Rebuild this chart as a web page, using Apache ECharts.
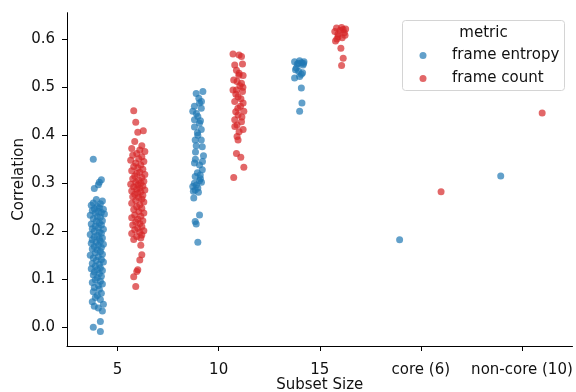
<!DOCTYPE html>
<html>
<head>
<meta charset="utf-8">
<script src="https://cdn.jsdelivr.net/npm/echarts@6/dist/echarts.min.js"></script>
<style>
  body { margin: 0; background: #fff; }
  #chart { width: 576px; height: 392px; }
</style>
</head>
<body>
<div id="chart"></div>
<script>
// categories on the x axis
const categories = ["5", "10", "15", "core (6)", "non-core (10)"];
const yTicks = [0, 0.1, 0.2, 0.3, 0.4, 0.5, 0.6];
const seriesNames = ["frame entropy", "frame count"];

// each point: [jitter inside its strip, correlation]
const entropy5 = [
  [-0.04, 0.350], [0.04, 0.307], [0.02, 0.302], [0.01, 0.297], [-0.03, 0.289],
  [-0.01, 0.266], [0.05, 0.263], [-0.04, 0.259], [0.03, 0.257], [-0.06, 0.254],
  [0.00, 0.252], [0.02, 0.249], [-0.03, 0.247], [0.06, 0.246], [-0.05, 0.243],
  [0.01, 0.241], [0.04, 0.239], [-0.02, 0.238], [0.07, 0.236], [-0.07, 0.233],
  [0.00, 0.230], [0.03, 0.229], [-0.04, 0.226], [0.05, 0.222], [-0.01, 0.221],
  [0.02, 0.217], [-0.06, 0.215], [0.04, 0.213], [-0.02, 0.211], [0.01, 0.207],
  [-0.05, 0.205], [0.06, 0.204], [-0.03, 0.200], [0.02, 0.198], [0.04, 0.196],
  [-0.07, 0.193], [0.00, 0.191], [-0.03, 0.188], [0.05, 0.186], [0.02, 0.184],
  [-0.05, 0.182], [0.03, 0.179], [-0.01, 0.177], [-0.06, 0.175], [0.06, 0.173],
  [0.01, 0.171], [-0.03, 0.168], [0.04, 0.166], [-0.05, 0.163], [0.00, 0.161],
  [0.03, 0.158], [-0.02, 0.155], [0.05, 0.152], [-0.07, 0.150], [0.01, 0.147],
  [-0.04, 0.144], [0.04, 0.141], [-0.01, 0.139], [0.06, 0.136], [-0.05, 0.133],
  [0.02, 0.131], [-0.02, 0.127], [0.03, 0.124], [-0.06, 0.122], [0.00, 0.120],
  [0.05, 0.118], [-0.03, 0.115], [0.02, 0.112], [-0.04, 0.109], [0.04, 0.106],
  [0.00, 0.103], [-0.02, 0.099], [0.03, 0.096], [-0.05, 0.093], [0.05, 0.090],
  [0.01, 0.087], [-0.03, 0.083], [0.02, 0.079], [-0.04, 0.074], [0.04, 0.071],
  [0.00, 0.066], [-0.02, 0.062], [0.03, 0.058], [-0.05, 0.053], [0.06, 0.048],
  [-0.03, 0.044], [0.01, 0.040], [0.05, 0.034], [0.03, 0.012], [-0.04, 0.000],
  [0.03, -0.009]
];
const count5 = [
  [-0.04, 0.451], [-0.02, 0.427], [0.00, 0.406], [0.055, 0.409], [-0.03, 0.387],
  [0.04, 0.378], [-0.06, 0.372], [0.02, 0.369], [0.07, 0.366], [-0.01, 0.362],
  [-0.05, 0.358], [0.04, 0.355], [0.01, 0.351], [-0.07, 0.348], [0.06, 0.345],
  [-0.02, 0.342], [0.03, 0.338], [-0.04, 0.335], [0.00, 0.332], [0.05, 0.329],
  [-0.06, 0.326], [0.02, 0.323], [-0.01, 0.320], [0.07, 0.318], [-0.03, 0.315],
  [0.04, 0.312], [-0.05, 0.309], [0.01, 0.306], [0.06, 0.304], [-0.02, 0.302],
  [0.03, 0.300], [-0.07, 0.298], [0.00, 0.296], [0.05, 0.294], [-0.04, 0.292],
  [0.02, 0.290], [-0.01, 0.288], [0.07, 0.286], [-0.06, 0.284], [0.03, 0.282],
  [0.00, 0.279], [-0.03, 0.277], [0.05, 0.275], [-0.05, 0.272], [0.01, 0.270],
  [0.04, 0.267], [-0.02, 0.264], [0.06, 0.261], [-0.06, 0.258], [0.02, 0.255],
  [-0.01, 0.251], [0.04, 0.248], [-0.04, 0.245], [0.01, 0.241], [0.06, 0.238],
  [-0.03, 0.234], [0.03, 0.231], [-0.06, 0.228], [0.00, 0.225], [0.05, 0.222],
  [-0.02, 0.219], [0.02, 0.216], [-0.05, 0.213], [0.04, 0.210], [0.00, 0.206],
  [-0.03, 0.203], [0.06, 0.201], [0.02, 0.198], [-0.06, 0.195], [0.04, 0.192],
  [-0.01, 0.189], [0.03, 0.186], [-0.04, 0.183], [0.03, 0.171], [0.04, 0.151],
  [0.02, 0.140], [0.00, 0.120], [-0.01, 0.116], [-0.04, 0.105], [-0.02, 0.085]
];
const entropy10 = [
  [0.044, 0.491], [-0.022, 0.487], [0.004, 0.477], [0.011, 0.467], [-0.04, 0.460],
  [0.03, 0.470], [-0.056, 0.450], [0.028, 0.456], [-0.02, 0.445], [-0.006, 0.439],
  [-0.039, 0.432], [0.02, 0.430], [0.01, 0.425], [-0.039, 0.417], [0.028, 0.412],
  [-0.01, 0.405], [-0.006, 0.400], [-0.032, 0.390], [0.028, 0.390], [-0.022, 0.378],
  [0.038, 0.376], [-0.029, 0.365], [0.05, 0.357], [-0.03, 0.350], [0.04, 0.345],
  [-0.039, 0.342], [0.011, 0.338], [0.038, 0.328], [-0.01, 0.322], [0.018, 0.317],
  [-0.032, 0.314], [0.02, 0.309], [0.01, 0.305], [0.03, 0.302], [-0.04, 0.300],
  [-0.02, 0.296], [-0.056, 0.293], [-0.006, 0.290], [-0.032, 0.286], [-0.05, 0.283],
  [0.00, 0.281], [-0.046, 0.269], [0.011, 0.234], [-0.032, 0.220], [-0.022, 0.215],
  [-0.006, 0.177]
];
const count10 = [
  [-0.058, 0.569], [0.002, 0.567], [0.026, 0.564], [-0.041, 0.546], [0.036, 0.548],
  [-0.024, 0.535], [0.002, 0.529], [0.00, 0.525], [0.042, 0.524], [-0.051, 0.515],
  [-0.018, 0.512], [0.026, 0.508], [0.01, 0.503], [0.04, 0.500], [-0.024, 0.494],
  [-0.058, 0.494], [0.036, 0.491], [-0.03, 0.485], [-0.008, 0.480], [0.02, 0.476],
  [-0.041, 0.470], [0.042, 0.467], [0.016, 0.460], [-0.01, 0.456], [-0.031, 0.449],
  [0.049, 0.450], [-0.008, 0.442], [0.03, 0.438], [-0.041, 0.432], [0.026, 0.428],
  [-0.018, 0.421], [-0.04, 0.418], [0.042, 0.412], [0.002, 0.407], [-0.018, 0.397],
  [-0.008, 0.390], [-0.024, 0.362], [0.019, 0.354], [0.049, 0.333], [-0.051, 0.312]
];
const entropy15 = [
  [-0.049, 0.553], [0.001, 0.555], [0.044, 0.553], [-0.01, 0.550], [0.02, 0.551],
  [0.04, 0.549], [-0.022, 0.548], [0.034, 0.546], [-0.032, 0.540], [-0.04, 0.536],
  [-0.009, 0.533], [0.03, 0.530], [0.018, 0.527], [0.001, 0.522], [-0.049, 0.519],
  [0.018, 0.498], [0.024, 0.467], [0.001, 0.450]
];
const count15 = [
  [-0.034, 0.623], [0.016, 0.624], [0.056, 0.621], [0.03, 0.620], [-0.051, 0.616],
  [0.00, 0.618], [0.042, 0.613], [-0.02, 0.610], [0.05, 0.608], [-0.018, 0.605],
  [0.022, 0.603], [-0.03, 0.600], [-0.044, 0.596], [0.009, 0.581], [0.032, 0.560],
  [0.016, 0.545]
];
const entropyCore = [[-0.01, 0.182]];
const countCore = [[0.00, 0.282]];
const entropyNonCore = [[-0.01, 0.315]];
const countNonCore = [[0.00, 0.446]];

const entropyByCat = [entropy5, entropy10, entropy15, entropyCore, entropyNonCore];
const countByCat = [count5, count10, count15, countCore, countNonCore];

function place(groups, dodge) {
  const out = [];
  groups.forEach((pts, i) => {
    pts.forEach(p => out.push([i + dodge + p[0], p[1]]));
  });
  return out;
}

const font = "DejaVu Sans";
const fs = 15;
const chart = echarts.init(document.getElementById("chart"));
chart.setOption({
  animation: false,
  textStyle: { fontFamily: font },
  grid: { left: 67, right: 3.5, top: 12.7, bottom: 46, outerBoundsMode: "none" },
  xAxis: {
    type: "value",
    min: -0.5,
    max: 4.5,
    name: "Subset Size",
    nameLocation: "middle",
    nameGap: 31.5,
    nameMoveOverlap: false,
    nameTextStyle: { fontSize: fs, color: "#111", fontFamily: font },
    axisLine: { show: true, onZero: false, lineStyle: { color: "#000", width: 1 } },
    axisTick: { show: true, length: 5, lineStyle: { color: "#000" }, customValues: [0, 1, 2, 3, 4] },
    axisLabel: {
      customValues: [0, 1, 2, 3, 4],
      formatter: v => categories[Math.round(v)],
      fontSize: fs, color: "#111", margin: 17, fontFamily: font
    },
    splitLine: { show: false }
  },
  yAxis: {
    type: "value",
    min: -0.039,
    max: 0.655,
    name: "Correlation",
    nameLocation: "middle",
    nameGap: 40,
    nameMoveOverlap: false,
    nameTextStyle: { fontSize: fs, color: "#111", fontFamily: font },
    axisLine: { show: true, onZero: false, lineStyle: { color: "#000", width: 1 } },
    axisTick: { show: true, length: 5, lineStyle: { color: "#000" }, customValues: yTicks },
    axisLabel: {
      customValues: yTicks,
      formatter: v => v.toFixed(1),
      fontSize: fs, color: "#111", margin: 12, fontFamily: font
    },
    splitLine: { show: false }
  },
  legend: {
    orient: "vertical",
    left: 419.5,
    top: 48,
    padding: 0,
    itemGap: 8,
    itemWidth: 28,
    itemHeight: 7,
    icon: "circle",
    textStyle: { fontSize: fs, color: "#111", lineHeight: 15, padding: [0, 0, 0, 10], fontFamily: font },
    data: seriesNames
  },
  graphic: [
    {
      type: "rect",
      shape: { x: 402.5, y: 20.5, width: 162, height: 70, r: 3 },
      style: { fill: "rgba(255,255,255,0.8)", stroke: "#d4d4d4", lineWidth: 1 },
      z: 0
    },
    {
      type: "text",
      x: 483.5,
      y: 33.5,
      style: { text: "metric", fontSize: fs, fill: "#111", fontFamily: font, align: "center", verticalAlign: "middle" },
      z: 1
    }
  ],
  series: [
    {
      name: seriesNames[0],
      type: "scatter",
      symbolSize: 7,
      itemStyle: { color: "#1f77b4", opacity: 0.7 },
      emphasis: { disabled: true },
      data: place(entropyByCat, -0.2)
    },
    {
      name: seriesNames[1],
      type: "scatter",
      symbolSize: 7,
      itemStyle: { color: "#d62728", opacity: 0.7 },
      emphasis: { disabled: true },
      data: place(countByCat, 0.2)
    }
  ]
});
</script>
</body>
</html>
